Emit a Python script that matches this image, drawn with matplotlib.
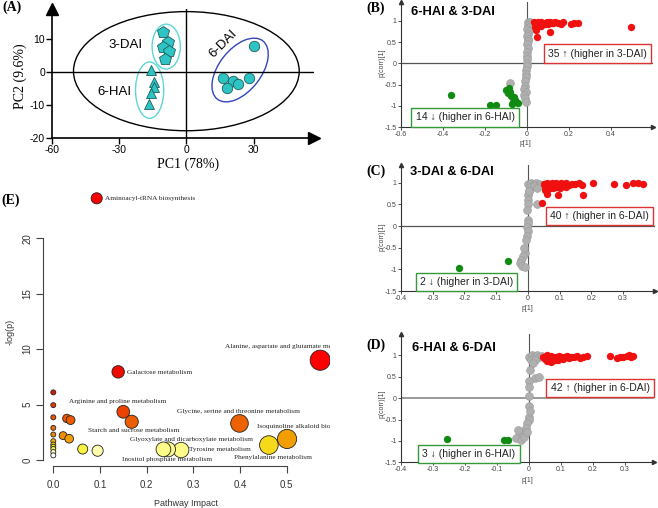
import matplotlib
matplotlib.use('Agg')
import matplotlib.pyplot as plt
import numpy as np
from matplotlib.patches import Ellipse
from matplotlib.transforms import Affine2D
from matplotlib.colors import LinearSegmentedColormap
from matplotlib.ticker import FormatStrFormatter

# ---- data ----
# (A) PCA scores
pc1_3dai = [-10.3, -8.0, -10.3, -7.6, -9.4]
pc2_3dai = [12.1, 9.1, 7.6, 6.4, 3.9]
pc1_6hai = [-16.0, -14.6, -14.3, -16.0, -16.5]
pc2_6hai = [0.6, -2.9, -4.5, -6.5, -9.7]
pc1_6dai = [16.4, 20.8, 23.0, 18.1, 27.8, 30.0]
pc2_6dai = [-1.7, -2.7, -3.6, -4.8, -1.7, 7.9]

# (B) 6-HAI & 3-DAI
b_gray_x = [0.006, 0.012, 0.018, 0.004, 0.010, 0.002, 0.008, 0.004, 0.0, 0.006,
            0.003, 0.001, 0.004, 0.002, 0.0, -0.002, 0.002, -0.001, -0.004, -0.003,
            -0.006, -0.008, -0.010, -0.012, -0.006, -0.014, -0.008, -0.004, -0.082]
b_gray_y = [0.98, 0.96, 0.93, 0.90, 0.86, 0.81, 0.76, 0.70, 0.64, 0.58,
            0.52, 0.45, 0.36, 0.27, 0.18, 0.10, 0.02, -0.06, -0.15, -0.24,
            -0.33, -0.42, -0.52, -0.60, -0.68, -0.74, -0.82, -0.90, -0.47]
b_red_x = [0.035, 0.045, 0.052, 0.06, 0.068, 0.076, 0.085, 0.095, 0.10, 0.11,
           0.118, 0.124, 0.135, 0.148, 0.163, 0.17, 0.211, 0.225, 0.243, 0.497,
           0.044, 0.108, 0.049, 0.04, 0.065]
b_red_y = [0.97, 0.93, 0.96, 0.92, 0.97, 0.95, 0.93, 0.97, 0.92, 0.96,
           0.94, 0.95, 0.97, 0.94, 0.92, 0.96, 0.92, 0.95, 0.95, 0.86,
           0.78, 0.73, 0.62, 0.85, 0.88]
b_green_x = [-0.363, -0.175, -0.146, -0.099, -0.087, -0.082, -0.075, -0.067, -0.059, -0.051,
             -0.043, -0.07, -0.09, -0.062]
b_green_y = [-0.74, -0.97, -0.98, -0.62, -0.57, -0.66, -0.76, -0.90, -0.86, -0.90,
             -0.92, -0.95, -0.70, -0.80]

# (C) 3-DAI & 6-DAI
c_gray_x = [0.002, 0.01, 0.018, 0.026, 0.034, 0.042, 0.008, 0.02, 0.03, 0.004,
            0.0, 0.002, 0.0, -0.002, 0.0, 0.001, -0.001, 0.0, -0.003, -0.006,
            -0.01, -0.015, -0.02, -0.025, -0.018, -0.008, -0.012, 0.029, 0.004]
c_gray_y = [0.97, 1.0, 0.98, 1.0, 0.97, 0.95, 0.90, 0.92, 0.88, 0.82,
            0.72, 0.60, 0.50, 0.36, 0.14, 0.06, -0.02, -0.12, -0.22, -0.32,
            -0.62, -0.70, -0.78, -0.86, -0.92, -0.95, -0.5, 0.52, 0.8]
c_red_x = [0.05, 0.055, 0.06, 0.065, 0.07, 0.075, 0.08, 0.085, 0.09, 0.095,
           0.10, 0.105, 0.11, 0.115, 0.12, 0.13, 0.14, 0.15, 0.16, 0.17,
           0.205, 0.273, 0.31, 0.331, 0.347, 0.363, 0.095, 0.174, 0.044, 0.055,
           0.065, 0.08, 0.09, 0.10, 0.12, 0.06]
c_red_y = [0.98, 0.92, 1.0, 0.95, 0.88, 0.99, 0.93, 0.97, 1.0, 0.91,
           0.96, 0.99, 0.93, 0.97, 1.0, 0.95, 0.98, 0.97, 1.0, 0.96,
           1.0, 0.98, 0.96, 1.0, 1.0, 0.98, 0.72, 0.71, 0.54, 0.84,
           0.86, 0.87, 0.9, 0.88, 0.9, 0.75]
c_green_x = [-0.218, -0.063]
c_green_y = [-0.96, -0.81]

# (D) 6-HAI & 6-DAI
d_gray_x = [0.0, 0.008, 0.016, 0.024, 0.032, 0.04, 0.005, 0.02, 0.013, 0.003,
            0.019, 0.03, 0.0, 0.0, 0.0, 0.0, 0.0, 0.0, -0.005, -0.01,
            -0.02, -0.03, -0.04, -0.025, -0.015, -0.005, 0.002, -0.035]
d_gray_y = [0.97, 1.0, 0.96, 1.0, 0.95, 0.98, 0.90, 0.88, 0.82, 0.66,
            0.47, 0.5, 0.40, 0.25, 0.05, -0.19, -0.43, -0.5, -0.58, -0.7,
            -0.81, -0.88, -0.94, -0.97, -0.9, -0.8, -0.3, -0.75]
d_red_x = [0.045, 0.05, 0.055, 0.06, 0.065, 0.07, 0.075, 0.08, 0.085, 0.09,
           0.095, 0.10, 0.105, 0.11, 0.115, 0.12, 0.125, 0.13, 0.14, 0.15,
           0.16, 0.17, 0.18, 0.253, 0.274, 0.285, 0.295, 0.305, 0.311, 0.32,
           0.326, 0.055, 0.07, 0.09, 0.06, 0.08]
d_red_y = [0.97, 0.92, 1.0, 0.95, 0.88, 0.99, 0.93, 0.97, 0.95, 0.91,
           0.98, 0.96, 0.92, 0.97, 0.95, 0.98, 0.93, 0.97, 0.96, 0.98,
           0.94, 0.97, 0.98, 0.99, 0.93, 0.96, 0.97, 0.98, 1.0, 0.97,
           0.98, 0.86, 0.85, 0.88, 0.9, 0.9]
d_green_x = [-0.257, -0.078, -0.065]
d_green_y = [-0.96, -0.97, -0.99]

# (E) pathway analysis
e_names = ['Aminoacyl-tRNA biosynthesis', 'Alanine, aspartate and glutamate metabolism',
           'Galactose metabolism', 'Arginine and proline metabolism',
           'Starch and sucrose metabolism', 'Glycine, serine and threonine metabolism',
           'Isoquinoline alkaloid biosynthesis', 'Phenylalanine metabolism',
           'Tyrosine metabolism', 'Glyoxylate and dicarboxylate metabolism',
           'Inositol phosphate metabolism',
           '', '', '', '', '', '', '', '', '', '', '', '', '', '', '', '', '']
e_impact = [0.093, 0.572, 0.139, 0.150, 0.168, 0.399, 0.501, 0.462, 0.274, 0.246, 0.236,
            0.063, 0.095, 0.029, 0.037, 0.021, 0.034,
            0, 0, 0, 0, 0, 0, 0, 0, 0, 0, 0]
e_logp = [23.6, 9.0, 7.95, 4.35, 3.45, 3.3, 1.9, 1.35, 0.9, 0.96, 0.96,
          0.99, 0.84, 3.75, 3.6, 2.2, 1.92,
          6.1, 4.95, 3.85, 2.9, 2.3, 1.7, 1.4, 1.2, 1.0, 0.72, 0.42]

# ---- figure ----
W, H = 658, 508
fig = plt.figure(figsize=(W / 100, H / 100), dpi=100)
SANS = ['Liberation Sans', 'DejaVu Sans']
SERIF = ['Liberation Serif', 'DejaVu Serif']
plt.rcParams['font.family'] = SANS
plt.rcParams['axes.unicode_minus'] = False


def add_ax(l, t, r, b):
    return fig.add_axes([l / W, 1 - b / H, (r - l) / W, (b - t) / H])


def ftext(x, y, s, **kw):
    fig.text(x / W, 1 - y / H, s, **kw)


# ---- (A) PCA ----
ax = add_ax(52, 9.3, 314, 138)
ax.set_xlim(-60, 57)
ax.set_ylim(-20, 19)
for s in ['top', 'right']:
    ax.spines[s].set_visible(False)
for s in ['left', 'bottom']:
    ax.spines[s].set_linewidth(1.2)
ax.set_xticks([-60, -30, 0, 30])
ax.set_yticks([-20, -10, 0, 10])
ax.tick_params(length=4, width=1, labelsize=7.5, pad=1)
ax.axhline(0, color='k', lw=1)
ax.axvline(0, color='k', lw=1)
ax.plot(1, 0, '>k', ms=8, transform=ax.transAxes, clip_on=False)
ax.plot(0, 1, '^k', ms=8, transform=ax.transAxes, clip_on=False)

ax.add_patch(Ellipse((0, 0.25), 100.8, 36.1, fill=False, ec='k', lw=1))
ax.add_patch(Ellipse((-9, 7.7), 12.6, 13.6, fill=False, ec='#5ed6d6', lw=1))
ax.add_patch(Ellipse((-16.4, -5.5), 12.6, 17.1, fill=False, ec='#5ed6d6', lw=1))
r = 3.3 / 2.239
ax.add_patch(Ellipse((24, 0.6 * r), 33, 18.8, angle=52, fill=False, ec='#3344bb', lw=1,
                     transform=Affine2D().scale(1, 1 / r) + ax.transData))

cyan = '#2ec4c4'
ax.plot(pc1_3dai, pc2_3dai, 'p', ms=9, color=cyan, mec='#1d5e5e', mew=0.6)
ax.plot(pc1_6hai, pc2_6hai, '^', ms=7.5, color=cyan, mec='#1d5e5e', mew=0.6)
ax.plot(pc1_6dai, pc2_6dai, 'o', ms=7.5, color=cyan, mec='#1d5e5e', mew=0.6)
ax.text(-27.1, 8.2, '3-DAI', fontsize=9.5, ha='center', va='center')
ax.text(-32, -6, '6-HAI', fontsize=9.5, ha='center', va='center')
ax.text(16.7, 8.5, '6-DAI', fontsize=9.5, ha='center', va='center', rotation=45)
ftext(188, 164, 'PC1 (78%)', family=SERIF, fontsize=10, ha='center', va='center')
ftext(20, 76, 'PC2 (9.6%)', family=SERIF, fontsize=10, ha='center', va='center', rotation=90)

# ---- (B)-(D) S-plots ----
panels = [
    dict(box=(401, 1.6, 653, 127.3), xlim=(-0.6, 0.6), ylim=(-1.5, 1.45),
         xticks=[-0.6, -0.4, -0.2, 0, 0.2, 0.4],
         gray=(b_gray_x, b_gray_y), red=(b_red_x, b_red_y), green=(b_green_x, b_green_y),
         title='6-HAI & 3-DAI', title_xy=(-0.552, 1.2),
         up='35 \u2191 (higher in 3-DAI)', up_xy=(0.336, 0.23),
         down='14 \u2193 (higher in 6-HAI)', down_xy=(-0.295, -1.27),
         ylab=(382, 63), xlab=(525, 144), hcol='#555555'),
    dict(box=(401, 164.6, 654.6, 291), xlim=(-0.4, 0.4), ylim=(-1.5, 1.42),
         xticks=[-0.4, -0.3, -0.2, -0.1, 0, 0.1, 0.2, 0.3],
         gray=(c_gray_x, c_gray_y), red=(c_red_x, c_red_y), green=(c_green_x, c_green_y),
         title='3-DAI & 6-DAI', title_xy=(-0.372, 1.25),
         up='40 \u2191 (higher in 6-DAI)', up_xy=(0.226, 0.24),
         down='2 \u2193 (higher in 3-DAI)', down_xy=(-0.193, -1.29),
         ylab=(382, 237), xlab=(527, 309), hcol='#555555'),
    dict(box=(401, 333.9, 653.8, 462.3), xlim=(-0.4, 0.39), ylim=(-1.5, 1.5),
         xticks=[-0.4, -0.3, -0.2, -0.1, 0, 0.1, 0.2, 0.3],
         gray=(d_gray_x, d_gray_y), red=(d_red_x, d_red_y), green=(d_green_x, d_green_y),
         title='6-HAI & 6-DAI', title_xy=(-0.366, 1.18),
         up='42 \u2191 (higher in 6-DAI)', up_xy=(0.222, 0.24),
         down='3 \u2193 (higher in 6-HAI)', down_xy=(-0.188, -1.31),
         ylab=(382, 404), xlab=(527, 480), hcol='#999999'),
]

for p in panels:
    ax = add_ax(*p['box'])
    ax.set_xlim(p['xlim'])
    ax.set_ylim(p['ylim'])
    ax.patch.set_visible(False)
    for s in ['top', 'right']:
        ax.spines[s].set_visible(False)
    for s in ['left', 'bottom']:
        ax.spines[s].set_linewidth(0.8)
        ax.spines[s].set_color('#333333')
    ax.set_xticks(p['xticks'])
    ax.set_yticks([-1.5, -1, -0.5, 0, 0.5, 1])
    ax.xaxis.set_major_formatter(FormatStrFormatter('%g'))
    ax.yaxis.set_major_formatter(FormatStrFormatter('%g'))
    ax.tick_params(length=2, width=0.6, color='#333333', labelsize=5, labelcolor='#444444', pad=1)
    ax.axvline(0, color='#555555', lw=0.8, zorder=1)
    ax.axhline(0, color=p['hcol'], lw=0.9 if p['hcol'] == '#555555' else 1.4, zorder=1)
    ax.plot(1, 0, '>', color='#333333', ms=3, transform=ax.transAxes, clip_on=False)
    ax.plot(0, 1, '^', color='#333333', ms=3, transform=ax.transAxes, clip_on=False)
    ax.scatter(*p['gray'], s=32, color='#b0b0b0', edgecolors='#9a9a9a', linewidths=0.4, zorder=3)
    ax.scatter(*p['green'], s=28, color='#118a11', linewidths=0, zorder=4)
    ax.scatter(*p['red'], s=28, color='#f01010', linewidths=0, zorder=4)
    ax.text(*p['title_xy'], p['title'], fontsize=9.3, fontweight='bold', ha='left', va='center')
    ax.text(*p['up_xy'], p['up'], fontsize=7.5, ha='center', va='center', color='#222222', zorder=5,
            bbox=dict(boxstyle='square,pad=0.4', fc='white', ec='#dd3333', lw=1))
    ax.text(*p['down_xy'], p['down'], fontsize=7.5, ha='center', va='center', color='#222222', zorder=5,
            bbox=dict(boxstyle='square,pad=0.4', fc='white', ec='#33993a', lw=1))
    ftext(*p['ylab'], 'p(corr)[1]', fontsize=5, color='#444444', ha='center', va='center', rotation=90)
    ftext(*p['xlab'], 'p[1]', fontsize=5, color='#444444', ha='center', va='center')

# ---- (E) pathway impact ----
ax = add_ax(38, 185, 330, 470)
ax.set_xlim(-0.0328, 0.593)
ax.set_ylim(-0.9, 24.8)
ax.patch.set_visible(False)
for s in ['top', 'right']:
    ax.spines[s].set_visible(False)
ax.spines['left'].set_bounds(0, 20)
ax.spines['left'].set_position(('data', -0.0214))
ax.spines['bottom'].set_bounds(0, 0.5)
ax.spines['bottom'].set_position(('data', -0.54))
for s in ['left', 'bottom']:
    ax.spines[s].set_color('#444444')
    ax.spines[s].set_linewidth(0.8)
ax.set_xticks(np.arange(0, 0.51, 0.1))
ax.set_yticks([0, 5, 10, 15, 20])
ax.xaxis.set_major_formatter(FormatStrFormatter('%.1f'))
ax.tick_params(length=5, width=0.8, color='#444444', labelsize=7, labelcolor='#333333')
ax.tick_params(axis='x', pad=5)
ax.tick_params(axis='y', pad=3)
for lab in ax.get_yticklabels():
    lab.set_rotation(90)
    lab.set_va('center')

nodes = [(0.0, '#ffffff'), (0.45, '#ffffff'), (0.85, '#ffffa0'), (1.0, '#f8f030'),
         (1.4, '#f5cf10'), (1.9, '#f29a00'), (2.3, '#ee8410'), (3.3, '#ec6000'),
         (4.4, '#ec4000'), (6.0, '#d02000'), (9.0, '#ff0000'), (25.0, '#ff0000')]
heat = LinearSegmentedColormap.from_list('heat', [(v / 25.0, c) for v, c in nodes])
imp = np.array(e_impact)
lp = np.array(e_logp)
diam = 5 + 20 * np.sqrt(imp)
ax.scatter(imp, lp, s=(0.72 * diam) ** 2, c=heat(lp / 25.0), edgecolors='#222222',
           linewidths=0.6, zorder=3)

label_pos = {
    'Aminoacyl-tRNA biosynthesis': (0.111, 23.58, 'left'),
    'Alanine, aspartate and glutamate metabolism': (0.368, 10.2, 'left'),
    'Galactose metabolism': (0.159, 7.86, 'left'),
    'Arginine and proline metabolism': (0.1376, 5.25, 'center'),
    'Starch and sucrose metabolism': (0.173, 2.70, 'center'),
    'Glycine, serine and threonine metabolism': (0.396, 4.41, 'center'),
    'Isoquinoline alkaloid biosynthesis': (0.437, 3.0, 'left'),
    'Glyoxylate and dicarboxylate metabolism': (0.297, 1.89, 'center'),
    'Tyrosine metabolism': (0.291, 0.96, 'left'),
    'Inositol phosphate metabolism': (0.244, 0.06, 'center'),
    'Phenylalanine metabolism': (0.471, 0.24, 'center'),
}
for name in e_names:
    if name:
        x, y, ha = label_pos[name]
        ax.text(x, y, name, family=SERIF, fontsize=5.2, color='#222222', ha=ha, va='center',
                clip_on=True, zorder=4)

ftext(10, 332, '-log(p)', fontsize=6.5, color='#333333', ha='center', va='center', rotation=90)
ftext(186, 503, 'Pathway Impact', fontsize=6.5, color='#333333', ha='center', va='center')

# panel letters
for letter, (x, y) in {'(A)': (11.7, 7.5), '(B)': (376, 8.3), '(C)': (375.7, 171.7),
                       '(D)': (375.7, 345), '(E)': (10.5, 200)}.items():
    ftext(x, y, letter, family=SERIF, fontsize=10, fontweight='bold', ha='center', va='center')

fig.savefig('out.png', dpi=100)
